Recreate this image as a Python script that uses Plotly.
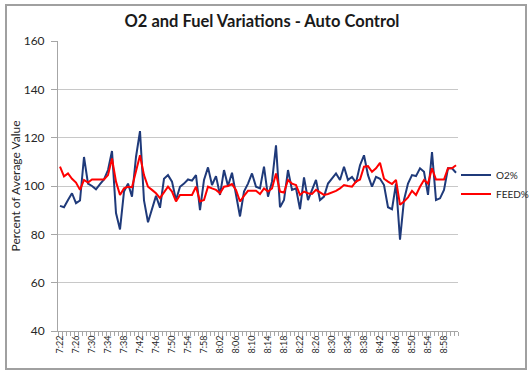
import plotly.graph_objects as go

# Time categories (one per minute, 7:22 .. 9:01)
times = []
h, m = 7, 22
for _ in range(100):
    times.append(f"{h}:{m:02d}")
    m += 1
    if m == 60:
        h, m = h + 1, 0

o2_pct = [
    91.8, 91.2, 94.2, 97.0, 92.9, 94.0, 112.0, 101.0, 100.0, 98.6,
    100.8, 102.7, 106.6, 114.5, 88.8, 82.0, 97.7, 101.0, 95.6, 112.0,
    122.7, 94.0, 85.0, 90.0, 95.9, 91.0, 103.0, 104.5, 101.8, 94.2,
    99.7, 101.0, 102.7, 102.2, 104.5, 90.0, 102.5, 107.7, 100.4, 104.1,
    96.3, 106.6, 100.0, 105.5, 96.3, 87.4, 97.7, 101.0, 105.2, 99.7,
    99.0, 108.0, 95.6, 101.8, 116.8, 91.2, 94.2, 106.6, 98.4, 99.0,
    90.4, 103.6, 94.2, 98.4, 102.5, 94.2, 95.6, 101.0, 103.0, 105.2,
    102.5, 108.0, 102.5, 103.8, 101.4, 108.6, 112.7, 104.5, 99.7, 103.8,
    103.0, 100.4, 91.2, 90.4, 101.0, 77.8, 94.2, 101.0, 104.5, 104.1,
    107.3, 105.9, 96.3, 114.0, 94.2, 94.9, 98.4, 107.3, 107.3, 105.5,
]

feed_pct = [
    108.0, 104.0, 105.2, 103.0, 101.4, 98.4, 102.5, 101.4, 102.7, 102.7,
    102.7, 102.7, 104.5, 111.4, 101.8, 96.3, 99.0, 99.7, 99.5, 106.6,
    112.7, 104.5, 99.7, 98.4, 97.0, 95.0, 97.3, 99.7, 97.7, 93.6,
    96.3, 96.3, 96.3, 96.3, 99.7, 93.6, 94.2, 99.7, 99.0, 98.4,
    97.0, 99.7, 100.0, 100.8, 98.4, 93.6, 95.9, 98.0, 98.0, 98.0,
    96.7, 99.0, 97.7, 99.0, 105.2, 97.7, 97.3, 102.5, 101.0, 100.4,
    96.3, 97.7, 97.0, 96.7, 98.4, 97.3, 96.3, 96.7, 97.3, 98.0,
    99.0, 100.4, 100.0, 99.7, 101.8, 102.7, 108.0, 108.2, 105.9, 107.3,
    109.6, 103.0, 101.8, 100.8, 102.5, 92.2, 93.6, 95.3, 98.0, 96.3,
    99.7, 102.5, 101.0, 107.3, 102.7, 102.7, 102.7, 107.3, 107.3, 108.6,
]

x_idx = list(range(len(times)))
tick_idx = x_idx[::4]
tick_txt = times[::4]

fig = go.Figure()
fig.add_trace(go.Scatter(x=x_idx, y=o2_pct, mode="lines", name="O2%",
                         line=dict(color="#1f3a7a", width=2)))
fig.add_trace(go.Scatter(x=x_idx, y=feed_pct, mode="lines", name="FEED%",
                         line=dict(color="#ff0000", width=2)))

font_family = "Lato, 'Liberation Sans', Arial, sans-serif"

fig.update_layout(
    width=530, height=374,
    margin=dict(l=58, r=72, t=41, b=43, autoexpand=False),
    paper_bgcolor="white", plot_bgcolor="white",
    font=dict(family=font_family, color="#262626", size=11),
    title=dict(text="<b>O2 and Fuel Variations - Auto Control</b>",
               x=0.51, xref="paper", xanchor="center",
               y=0.942, yref="container", yanchor="middle",
               font=dict(size=16.5, color="#1a1a1a")),
    showlegend=True,
    legend=dict(x=0.995, y=0.505, xanchor="left", yanchor="middle",
                font=dict(size=10, color="#262626"),
                bgcolor="rgba(0,0,0,0)", tracegroupgap=4,
                itemwidth=30),
    xaxis=dict(
        range=[-0.5, len(times) - 0.5],
        tickmode="array", tickvals=tick_idx, ticktext=tick_txt,
        tickangle=-90, tickfont=dict(size=9, color="#262626"),
        showgrid=False, zeroline=False, automargin=False,
        showline=True, linecolor="#a6a6a6", linewidth=1,
        ticks="",
        minor=dict(tickmode="linear", tick0=-0.5, dtick=1, ticks="outside",
                   ticklen=4, tickcolor="#a6a6a6", showgrid=False),
    ),
    yaxis=dict(
        range=[40, 160], dtick=20, tick0=40,
        showgrid=True, gridcolor="#c8c8c8", gridwidth=1,
        zeroline=False, automargin=False,
        showline=True, linecolor="#a6a6a6", linewidth=1,
        ticks="outside", ticklen=6, tickcolor="#a6a6a6",
        ticklabelstandoff=4,
        tickfont=dict(size=12, color="#262626"),
        title=dict(text="Percent of Average Value", standoff=0,
                   font=dict(size=12, color="#262626")),
    ),
    shapes=[dict(type="rect", xref="paper", yref="paper",
                 x0=-0.13, x1=1.17, y0=-0.131, y1=1.124,
                 line=dict(color="#a0a0a0", width=2), layer="below")],
)

fig.write_html("out.html",
               config={"displayModeBar": False},
               post_script="document.body.style.margin='0';document.body.style.overflow='hidden';")
